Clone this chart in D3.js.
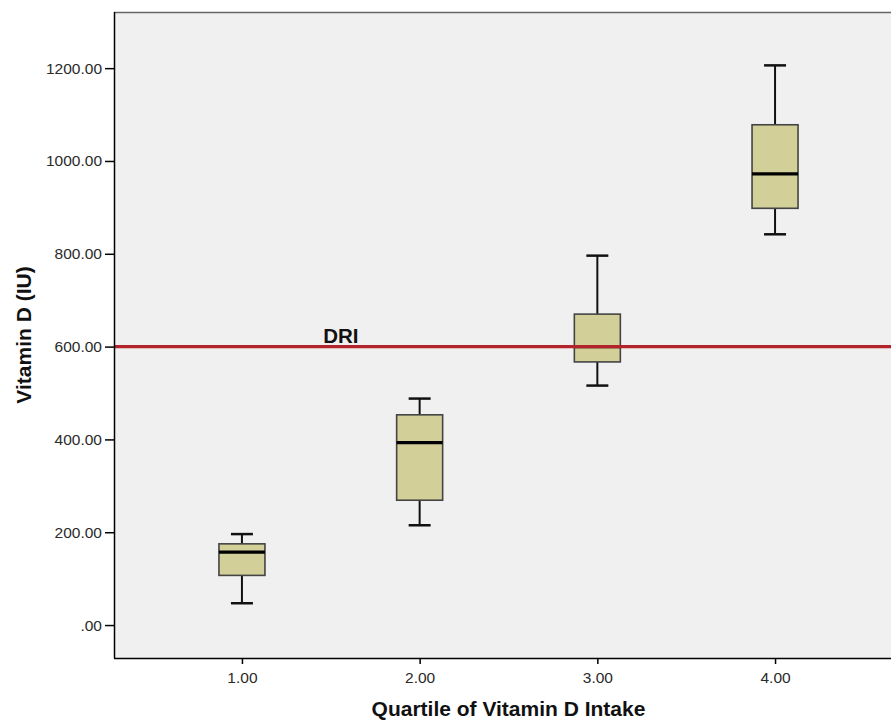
<!DOCTYPE html>
<html>
<head>
<meta charset="utf-8">
<script src="https://cdn.jsdelivr.net/npm/d3@7"></script>
<style>
    body { margin: 0; background: #ffffff; }
    .axis text { font-family: "Liberation Sans", Arial, sans-serif; font-size: 15.5px; fill: #2a2a2a; }
    .axis path, .axis line { stroke: #000; stroke-width: 1.5px; }
    .axis-title { font-family: "Liberation Sans", Arial, sans-serif; font-weight: bold; font-size: 21px; fill: #111; }
</style>
</head>
<body>
<div id="chart-area"></div>
<script>

// quartile groups and box plot stats
let quartiles = [1, 2, 3, 4];
let whiskerLow = [47, 215, 516, 842];
let boxLow = [107, 269, 567, 898];
let medians = [157, 393, 600, 972];
let boxHigh = [175, 453, 670, 1078];
let whiskerHigh = [196, 488, 796, 1206];

let yTicks = [0, 200, 400, 600, 800, 1000, 1200];
let driValue = 600;
let driLabel = "DRI";

class BoxPlotVis {

    constructor(_parentElement) {
        this.parentElement = _parentElement;
        this.data = quartiles.map((q, i) => ({
            q: q,
            min: whiskerLow[i],
            p25: boxLow[i],
            median: medians[i],
            p75: boxHigh[i],
            max: whiskerHigh[i]
        }));

        this.initVis();
    }

    initVis() {
        let vis = this;

        vis.margin = { top: 12, right: 0, bottom: 65, left: 114 };
        vis.width = 891 - vis.margin.left - vis.margin.right;
        vis.height = 723 - vis.margin.top - vis.margin.bottom;

        vis.svg = d3.select("#" + vis.parentElement).append("svg")
            .attr("width", 891)
            .attr("height", 723)
            .append("g")
            .attr("transform", "translate(" + vis.margin.left + "," + vis.margin.top + ")");

        // plot range runs past the right edge of the picture (it is cropped there)
        vis.x = d3.scaleLinear()
            .domain([0.28, 4.72])
            .range([0, 4.44 * 177.7]);

        vis.y = d3.scaleLinear()
            .domain([-71, 1321])
            .range([vis.height, 0]);

        // plot background
        vis.svg.append("rect")
            .attr("x", 0)
            .attr("y", 0)
            .attr("width", vis.x(4.72))
            .attr("height", vis.height)
            .attr("fill", "#f0f0f0");

        // top frame line
        vis.svg.append("line")
            .attr("x1", 0)
            .attr("x2", vis.x(4.72))
            .attr("y1", 0.5)
            .attr("y2", 0.5)
            .attr("stroke", "#666")
            .attr("stroke-width", 1.5);

        vis.updateVis();
    }

    updateVis() {
        let vis = this;
        let boxWidth = 46;
        let capWidth = 22;

        // whiskers
        vis.svg.selectAll(".whisker")
            .data(vis.data)
            .enter()
            .append("line").attr("class", "whisker")
            .attr("x1", d => vis.x(d.q))
            .attr("x2", d => vis.x(d.q))
            .attr("y1", d => vis.y(d.min))
            .attr("y2", d => vis.y(d.max))
            .attr("stroke", "#111")
            .attr("stroke-width", 2);

        // caps (top and bottom)
        ["min", "max"].forEach(key => {
            vis.svg.selectAll(".cap-" + key)
                .data(vis.data)
                .enter()
                .append("line").attr("class", "cap-" + key)
                .attr("x1", d => vis.x(d.q) - capWidth / 2)
                .attr("x2", d => vis.x(d.q) + capWidth / 2)
                .attr("y1", d => vis.y(d[key]))
                .attr("y2", d => vis.y(d[key]))
                .attr("stroke", "#111")
                .attr("stroke-width", 2.5);
        });

        // boxes
        vis.svg.selectAll(".box")
            .data(vis.data)
            .enter()
            .append("rect").attr("class", "box")
            .attr("x", d => vis.x(d.q) - boxWidth / 2)
            .attr("y", d => vis.y(d.p75))
            .attr("width", boxWidth)
            .attr("height", d => vis.y(d.p25) - vis.y(d.p75))
            .attr("fill", "#d3cf98")
            .attr("stroke", "#444")
            .attr("stroke-width", 1.6);

        // medians
        vis.svg.selectAll(".median-line")
            .data(vis.data)
            .enter()
            .append("line").attr("class", "median-line")
            .attr("x1", d => vis.x(d.q) - boxWidth / 2)
            .attr("x2", d => vis.x(d.q) + boxWidth / 2)
            .attr("y1", d => vis.y(d.median))
            .attr("y2", d => vis.y(d.median))
            .attr("stroke", "#000")
            .attr("stroke-width", 3.2);

        // DRI reference line
        vis.svg.append("line")
            .attr("x1", 0)
            .attr("x2", vis.x(4.72))
            .attr("y1", vis.y(driValue))
            .attr("y2", vis.y(driValue))
            .attr("stroke", "#b3242a")
            .attr("stroke-width", 3.4);

        vis.svg.append("text")
            .attr("x", vis.x(1.457))
            .attr("y", vis.y(driValue) - 4)
            .attr("font-family", "Liberation Sans, Arial, sans-serif")
            .attr("font-weight", "bold")
            .attr("font-size", "20.5px")
            .attr("fill", "#111")
            .text(driLabel);

        // axes
        vis.yAxis = d3.axisLeft(vis.y)
            .tickValues(yTicks)
            .tickSize(9)
            .tickPadding(3)
            .tickFormat(d => d === 0 ? ".00" : d3.format(".2f")(d));

        vis.xAxis = d3.axisBottom(vis.x)
            .tickValues(quartiles)
            .tickSize(6)
            .tickPadding(8)
            .tickFormat(d3.format(".2f"));

        vis.svg.append("g")
            .attr("class", "y-axis axis")
            .call(vis.yAxis)
            .call(g => g.select(".domain").attr("d", "M0.5,0V" + vis.height));

        vis.svg.append("g")
            .attr("class", "x-axis axis")
            .attr("transform", "translate(0," + vis.height + ")")
            .call(vis.xAxis)
            .call(g => g.select(".domain").attr("d", "M0,0.5H" + vis.x(4.72)));

        // axis titles
        vis.svg.append("text")
            .attr("class", "axis-title")
            .attr("text-anchor", "middle")
            .attr("x", vis.x(2.5))
            .attr("y", vis.height + 58)
            .text("Quartile of Vitamin D Intake");

        vis.svg.append("text")
            .attr("class", "axis-title")
            .attr("text-anchor", "middle")
            .attr("transform", "translate(" + (-83) + "," + (vis.height / 2) + ") rotate(-90)")
            .text("Vitamin D (IU)");
    }
}

new BoxPlotVis("chart-area");
</script>
</body>
</html>
